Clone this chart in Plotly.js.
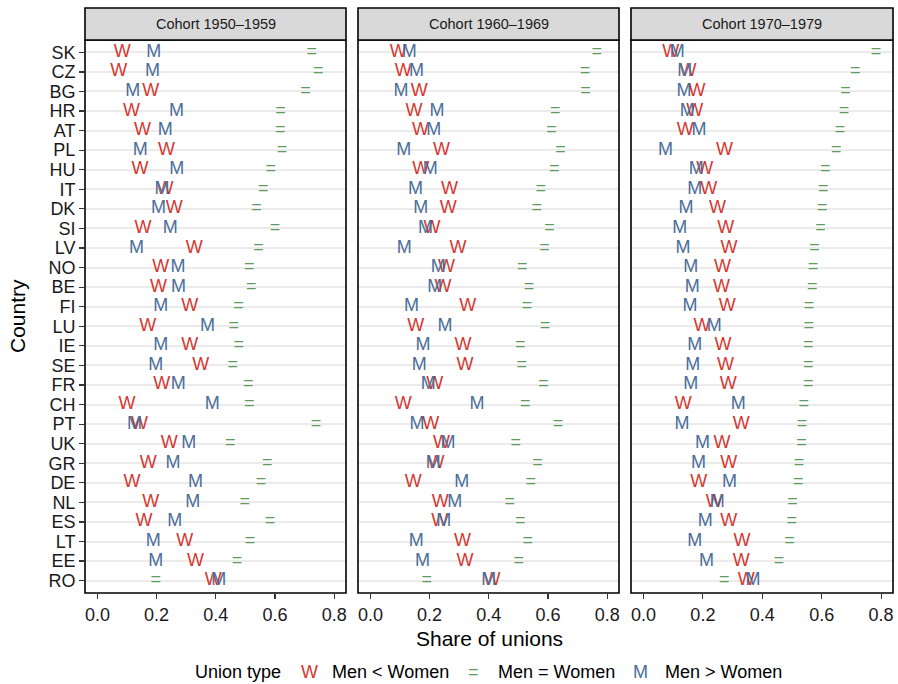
<!DOCTYPE html>
<html>
<head>
<meta charset="utf-8">
<script src="https://cdn.plot.ly/plotly-3.0.1.min.js"></script>
<style>html,body{margin:0;padding:0;background:#fff;}#chart{width:898px;height:684px;}</style>
</head>
<body>
<div id="chart"></div>
<script>
const countries = ["SK","CZ","BG","HR","AT","PL","HU","IT","DK","SI","LV","NO","BE","FI","LU","IE","SE","FR","CH","PT","UK","GR","DE","NL","ES","LT","EE","RO"];
const cohorts = ["Cohort 1950\u20131959","Cohort 1960\u20131969","Cohort 1970\u20131979"];
const seriesNames = ["Men < Women","Men = Women","Men > Women"];
const seriesSymbols = ["W","=","M"];
const tickVals = [0, 0.2, 0.4, 0.6, 0.8];
const tickLabels = ["0.0","0.2","0.4","0.6","0.8"];

// Cohort 1950-1959
const w50 = [0.084,0.072,0.18,0.115,0.152,0.233,0.144,0.228,0.26,0.154,0.327,0.214,0.206,0.312,0.17,0.312,0.349,0.217,0.10,0.142,0.243,0.172,0.117,0.18,0.157,0.295,0.331,0.391];
const e50 = [0.724,0.746,0.703,0.619,0.618,0.624,0.586,0.56,0.538,0.60,0.544,0.513,0.52,0.477,0.461,0.478,0.457,0.51,0.513,0.739,0.449,0.574,0.553,0.498,0.583,0.516,0.472,0.197];
const m50 = [0.19,0.186,0.119,0.267,0.229,0.145,0.268,0.218,0.206,0.246,0.132,0.272,0.274,0.214,0.372,0.214,0.197,0.273,0.388,0.125,0.309,0.255,0.331,0.322,0.261,0.189,0.197,0.41];
// Cohort 1960-1969
const w60 = [0.094,0.111,0.165,0.147,0.169,0.24,0.17,0.267,0.263,0.208,0.296,0.257,0.245,0.329,0.153,0.313,0.32,0.217,0.111,0.204,0.24,0.222,0.145,0.236,0.234,0.311,0.32,0.411];
const e60 = [0.765,0.725,0.727,0.625,0.612,0.642,0.621,0.576,0.562,0.605,0.588,0.513,0.536,0.529,0.59,0.506,0.511,0.585,0.523,0.634,0.491,0.565,0.542,0.471,0.506,0.532,0.501,0.19];
const m60 = [0.131,0.156,0.103,0.225,0.214,0.113,0.202,0.152,0.17,0.186,0.114,0.229,0.217,0.139,0.252,0.178,0.165,0.195,0.36,0.157,0.262,0.212,0.309,0.285,0.248,0.155,0.176,0.40];
// Cohort 1970-1979
const w70 = [0.092,0.15,0.18,0.173,0.141,0.273,0.206,0.22,0.249,0.277,0.288,0.266,0.263,0.282,0.197,0.268,0.276,0.285,0.134,0.329,0.264,0.287,0.186,0.238,0.287,0.332,0.329,0.346];
const e70 = [0.783,0.713,0.68,0.675,0.662,0.649,0.612,0.605,0.602,0.596,0.576,0.571,0.568,0.557,0.556,0.555,0.555,0.555,0.54,0.534,0.532,0.524,0.521,0.502,0.499,0.492,0.456,0.272];
const m70 = [0.114,0.139,0.136,0.147,0.187,0.074,0.178,0.173,0.143,0.122,0.133,0.159,0.164,0.157,0.238,0.173,0.166,0.159,0.319,0.13,0.199,0.185,0.29,0.248,0.208,0.173,0.212,0.369];

const cohortData = [[w50,e50,m50],[w60,e60,m60],[w70,e70,m70]];
const colors = ["#D5372F","#5F9B5F","#4A6E99"];

const W = 898, H = 684;
const FONT = "Liberation Sans, Arial, Helvetica, sans-serif";
const fx = p => p / W;
const fy = p => 1 - p / H;
const panels = [[85,346],[358,619],[631,893]];
const plotTop = 40, plotBottom = 593, stripTop = 8;

const traces = [];
cohortData.forEach((set, ci) => {
  const xa = ci === 0 ? "x" : "x" + (ci + 1);
  set.forEach((vals, si) => {
    traces.push({
      type: "scatter", mode: "text",
      x: vals, y: countries,
      text: countries.map(() => seriesSymbols[si]),
      textposition: "middle center",
      textfont: {family: FONT, size: 18, color: colors[si]},
      xaxis: xa, yaxis: "y",
      name: seriesNames[si],
      showlegend: false, hoverinfo: "skip", cliponaxis: false
    });
  });
});

const layout = {
  width: W, height: H,
  margin: {l: 0, r: 0, t: 0, b: 0},
  paper_bgcolor: "#fff", plot_bgcolor: "#fff",
  font: {family: FONT, color: "#111"},
  showlegend: false,
  yaxis: {
    type: "category", categoryorder: "array", categoryarray: countries,
    tickmode: "array", tickvals: countries, ticktext: countries,
    range: [27.63, -0.63], domain: [fy(plotBottom), fy(plotTop)],
    anchor: "x", showgrid: true, gridcolor: "#EBEBEB", gridwidth: 2,
    zeroline: false, showline: false,
    ticks: "outside", ticklen: 5, tickwidth: 1.2, tickcolor: "#333",
    tickfont: {family: FONT, size: 18, color: "#1a1a1a"}, fixedrange: true
  },
  shapes: [], annotations: []
};

panels.forEach((pp, i) => {
  const key = i === 0 ? "xaxis" : "xaxis" + (i + 1);
  layout[key] = {
    domain: [fx(pp[0]), fx(pp[1])], anchor: "y",
    range: [-0.042, 0.84], showgrid: false, zeroline: false, showline: false,
    tickmode: "array", tickvals: tickVals, ticktext: tickLabels,
    ticks: "outside", ticklen: 5, tickwidth: 1.2, tickcolor: "#333",
    tickfont: {family: FONT, size: 18, color: "#1a1a1a"}, fixedrange: true
  };
  layout.shapes.push({type: "rect", xref: "paper", yref: "paper",
    x0: fx(pp[0]), x1: fx(pp[1]), y0: fy(plotBottom), y1: fy(plotTop),
    line: {color: "#000", width: 1.6}, fillcolor: "rgba(0,0,0,0)", layer: "above"});
  layout.shapes.push({type: "rect", xref: "paper", yref: "paper",
    x0: fx(pp[0]), x1: fx(pp[1]), y0: fy(plotTop), y1: fy(stripTop),
    line: {color: "#000", width: 1.6}, fillcolor: "#D9D9D9", layer: "above"});
  layout.annotations.push({xref: "paper", yref: "paper",
    x: fx((pp[0] + pp[1]) / 2), y: fy((stripTop + plotTop) / 2),
    text: cohorts[i], showarrow: false, xanchor: "center", yanchor: "middle",
    font: {family: FONT, size: 14.5, color: "#1a1a1a"}});
});

layout.annotations.push({xref: "paper", yref: "paper", x: fx(489), y: fy(638),
  text: "Share of unions", showarrow: false, xanchor: "center", yanchor: "middle",
  font: {family: FONT, size: 21, color: "#000"}});
layout.annotations.push({xref: "paper", yref: "paper", x: fx(17), y: fy(316),
  text: "Country", showarrow: false, textangle: -90, xanchor: "center", yanchor: "middle",
  font: {family: FONT, size: 21, color: "#000"}});

const legY = fy(672);
layout.annotations.push({xref: "paper", yref: "paper", x: fx(193), y: legY,
  text: "Union type", showarrow: false, xanchor: "left", yanchor: "middle",
  font: {family: FONT, size: 18, color: "#000"}});
const keyX = [309, 474, 640];
const labX = [330, 496, 663];
seriesNames.forEach((nm, i) => {
  layout.annotations.push({xref: "paper", yref: "paper", x: fx(keyX[i]), y: legY,
    text: seriesSymbols[i], showarrow: false, xanchor: "center", yanchor: "middle",
    font: {family: FONT, size: 18, color: colors[i]}});
  layout.annotations.push({xref: "paper", yref: "paper", x: fx(labX[i]), y: legY,
    text: nm.replace("<", "&lt;").replace(">", "&gt;"), showarrow: false, xanchor: "left", yanchor: "middle",
    font: {family: FONT, size: 18, color: "#000"}});
});

Plotly.newPlot("chart", traces, layout, {staticPlot: true, displayModeBar: false});
</script>
</body>
</html>
